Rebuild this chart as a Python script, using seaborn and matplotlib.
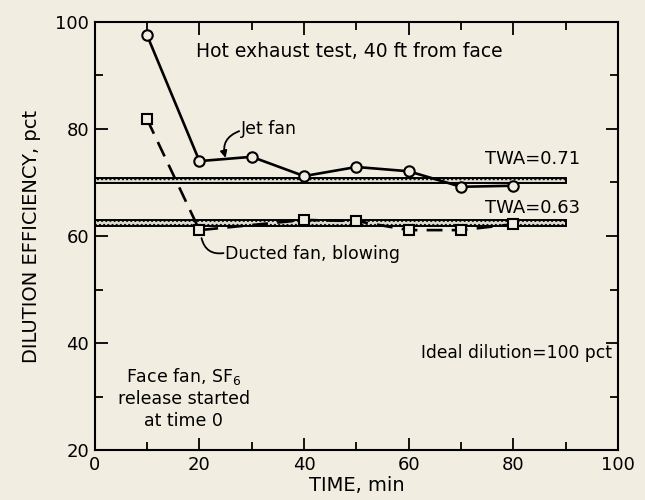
import matplotlib
matplotlib.use("Agg")
import matplotlib.pyplot as plt
import seaborn as sns
import pandas as pd

# ---- data ----
jet_time = [10, 20, 30, 40, 50, 60, 70, 80]
jet_eff = [97.5, 74.0, 74.8, 71.2, 72.9, 72.1, 69.2, 69.4]

duct_time = [10, 20, 40, 50, 60, 70, 80]
duct_eff = [81.8, 61.1, 63.0, 62.8, 61.1, 61.1, 62.2]

twa_labels = ["TWA=0.71", "TWA=0.63"]
twa_low = [69.9, 61.8]
twa_high = [70.9, 62.9]
twa_end = 90

x_ticks = [0, 20, 40, 60, 80, 100]
y_ticks = [20, 40, 60, 80, 100]

bg = "#f1ede1"

sns.set_style("ticks")
plt.rcParams['font.family'] = ['DejaVu Sans']
plt.rcParams['text.color'] = 'black'
plt.rcParams['axes.labelcolor'] = 'black'
plt.rcParams['xtick.color'] = 'black'
plt.rcParams['ytick.color'] = 'black'

fig = plt.figure(figsize=(6.45, 5.0), dpi=100, facecolor=bg)
ax = fig.add_axes([0.147, 0.10, 0.811, 0.856])
ax.set_facecolor(bg)

jet = pd.DataFrame({"time": jet_time, "eff": jet_eff})
duct = pd.DataFrame({"time": duct_time, "eff": duct_eff})

# TWA bands
for lo, hi in zip(twa_low, twa_high):
    ax.axhspan(lo, hi, xmin=0, xmax=twa_end / 100, facecolor="#dcd9cf",
               edgecolor="black", linewidth=1.4, hatch="....", zorder=1)

sns.lineplot(data=jet, x="time", y="eff", ax=ax, color="black", linewidth=1.9,
             marker="o", markersize=7.5, markerfacecolor=bg,
             markeredgecolor="black", markeredgewidth=1.5, zorder=3)
sns.lineplot(data=duct, x="time", y="eff", ax=ax, color="black", linewidth=1.9,
             linestyle=(0, (6, 3.5)), marker="s", markersize=7,
             markerfacecolor=bg, markeredgecolor="black", markeredgewidth=1.5,
             zorder=3)

ax.set_xlim(0, 100)
ax.set_ylim(20, 100)
ax.set_xticks(x_ticks)
ax.set_yticks(y_ticks)
ax.set_xticks([10, 30, 50, 70, 90], minor=True)
ax.set_yticks([30, 50, 70, 90], minor=True)
ax.tick_params(which="both", direction="in", top=True, right=True,
               width=1.3, labelsize=13, pad=4)
ax.tick_params(which="major", length=9)
ax.tick_params(which="minor", length=6)
for s in ax.spines.values():
    s.set_linewidth(1.5)
    s.set_color("black")

ax.set_xlabel("TIME, min", fontsize=14, labelpad=2)
ax.set_ylabel("DILUTION EFFICIENCY, pct", fontsize=14, labelpad=10)

fs = 12.5
ax.text(19.4, 94.5, "Hot exhaust test, 40 ft from face", fontsize=13.5,
        ha="left", va="center")
ax.text(27.9, 80.0, "Jet fan", fontsize=fs, ha="left", va="center")
ax.annotate("", xy=(25.0, 74.6), xytext=(27.6, 79.6),
            arrowprops=dict(arrowstyle="-|>", color="black", lw=1.3,
                            connectionstyle="arc3,rad=0.45",
                            mutation_scale=10, shrinkA=0, shrinkB=0))
ax.text(24.8, 56.6, "Ducted fan, blowing", fontsize=fs, ha="left", va="center")
ax.annotate("", xy=(20.4, 59.6), xytext=(24.6, 56.8),
            arrowprops=dict(arrowstyle="-", color="black", lw=1.3,
                            connectionstyle="arc3,rad=-0.45",
                            shrinkA=0, shrinkB=0))
ax.text(74.6, 74.4, twa_labels[0], fontsize=fs + 0.5, ha="left", va="center")
ax.text(74.6, 65.2, twa_labels[1], fontsize=fs + 0.5, ha="left", va="center")
ax.text(98.8, 38.2, "Ideal dilution=100 pct", fontsize=fs - 0.2,
        ha="right", va="center")
ax.text(17.0, 29.8, "Face fan, SF$_6$\nrelease started\nat time 0",
        fontsize=fs, ha="center", va="center", linespacing=1.25)

fig.savefig("out.png", dpi=100, facecolor=bg)
